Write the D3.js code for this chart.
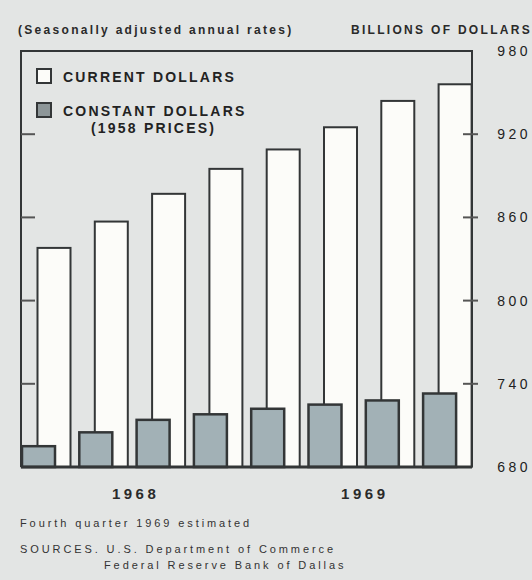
<!DOCTYPE html>
<html>
<head>
<meta charset="utf-8">
<style>
  body { margin: 0; background: #e3e5e4; }
  svg { display: block; font-family: "Liberation Sans", Arial, sans-serif; }
</style>
</head>
<body>
<svg width="532" height="580"></svg>
<script src="https://d3js.org/d3.v7.min.js"></script>
<script>
// quarterly GNP, billions of dollars
var quarters = ["1968Q1", "1968Q2", "1968Q3", "1968Q4", "1969Q1", "1969Q2", "1969Q3", "1969Q4"];
var currentDollars = [838, 857, 877, 895, 909, 925, 944, 956];
var constantDollars = [695, 705, 714, 718, 722, 725, 728, 733];
var years = ["1968", "1969"];
var yTicks = [680, 740, 800, 860, 920, 980];
var innerTicks = [740, 800, 860, 920];

var svg = d3.select("svg"),
    width = +svg.attr("width"),
    height = +svg.attr("height");

var plotLeft = 21, plotRight = 472, plotTop = 51, plotBottom = 467;
var ink = "#333637";

svg.append("rect").attr("width", width).attr("height", height).attr("fill", "#e3e5e4");

var x = d3.scaleBand()
    .domain(quarters)
    .range([plotLeft, plotLeft + 57.3 * 8]);

var y = d3.scaleLinear()
    .domain([680, 980])
    .range([plotBottom, plotTop]);

// current dollars (white) bars
svg.append("g").selectAll("rect")
  .data(currentDollars)
  .enter().append("rect")
    .attr("x", function(d, i) { return x(quarters[i]) + 16.5; })
    .attr("y", function(d) { return y(d); })
    .attr("width", 33)
    .attr("height", function(d) { return y(680) - y(d); })
    .attr("fill", "#fcfcf9")
    .attr("stroke", ink)
    .attr("stroke-width", 2);

// constant dollars (gray) bars
svg.append("g").selectAll("rect")
  .data(constantDollars)
  .enter().append("rect")
    .attr("x", function(d, i) { return x(quarters[i]) + 1; })
    .attr("y", function(d) { return y(d); })
    .attr("width", 33)
    .attr("height", function(d) { return y(680) - y(d); })
    .attr("fill", "#a2b1b6")
    .attr("stroke", ink)
    .attr("stroke-width", 2.5);

// frame
svg.append("path")
    .attr("d", "M" + plotLeft + "," + plotBottom + "V" + plotTop + "H" + plotRight + "V" + plotBottom)
    .attr("fill", "none")
    .attr("stroke", ink)
    .attr("stroke-width", 2);
svg.append("line")
    .attr("x1", plotLeft).attr("x2", plotRight)
    .attr("y1", plotBottom).attr("y2", plotBottom)
    .attr("stroke", ink)
    .attr("stroke-width", 3);

// tick marks left and right
svg.append("g").selectAll("line")
  .data(innerTicks)
  .enter().append("line")
    .attr("x1", plotLeft).attr("x2", plotLeft + 14)
    .attr("y1", function(d) { return y(d); })
    .attr("y2", function(d) { return y(d); })
    .attr("stroke", "#555")
    .attr("stroke-width", 2);
svg.append("g").selectAll("line")
  .data(innerTicks)
  .enter().append("line")
    .attr("x1", plotRight - 9).attr("x2", plotRight + 6)
    .attr("y1", function(d) { return y(d); })
    .attr("y2", function(d) { return y(d); })
    .attr("stroke", "#555")
    .attr("stroke-width", 2);

// y labels
svg.append("g").selectAll("text")
  .data(yTicks)
  .enter().append("text")
    .attr("x", 531)
    .attr("y", function(d) { return y(d) + 5; })
    .attr("text-anchor", "end")
    .attr("font-size", 14)
    .attr("letter-spacing", 3.5)
    .attr("fill", "#222")
    .text(function(d) { return d; });

// year labels
svg.append("g").selectAll("text")
  .data(years)
  .enter().append("text")
    .attr("x", function(d, i) { return (x(quarters[i * 4]) + x(quarters[i * 4 + 3]) + x.bandwidth()) / 2; })
    .attr("y", 499)
    .attr("text-anchor", "middle")
    .attr("font-size", 15)
    .attr("font-weight", "bold")
    .attr("letter-spacing", 3.5)
    .attr("fill", "#2a2a2a")
    .text(function(d) { return d; });

// header
svg.append("text")
    .attr("x", 18).attr("y", 34)
    .attr("font-size", 12)
    .attr("font-weight", "bold")
    .attr("letter-spacing", 2.3)
    .attr("fill", "#2a2a2a")
    .text("(Seasonally adjusted annual rates)");
svg.append("text")
    .attr("x", 532).attr("y", 34)
    .attr("text-anchor", "end")
    .attr("font-size", 12)
    .attr("font-weight", "bold")
    .attr("letter-spacing", 2.3)
    .attr("fill", "#2a2a2a")
    .text("BILLIONS OF DOLLARS");

// legend
var legend = svg.append("g");
legend.append("rect")
    .attr("x", 37).attr("y", 69).attr("width", 14).attr("height", 14)
    .attr("fill", "#fcfcf9").attr("stroke", ink).attr("stroke-width", 2);
legend.append("rect")
    .attr("x", 37).attr("y", 103).attr("width", 14).attr("height", 14)
    .attr("fill", "#8d9698").attr("stroke", ink).attr("stroke-width", 2);
legend.append("text")
    .attr("x", 63).attr("y", 82)
    .attr("font-size", 14).attr("font-weight", "bold").attr("letter-spacing", 2.2)
    .attr("fill", "#222")
    .text("CURRENT DOLLARS");
legend.append("text")
    .attr("x", 63).attr("y", 116)
    .attr("font-size", 14).attr("font-weight", "bold").attr("letter-spacing", 2.2)
    .attr("fill", "#222")
    .text("CONSTANT DOLLARS");
legend.append("text")
    .attr("x", 91).attr("y", 133)
    .attr("font-size", 14).attr("font-weight", "bold").attr("letter-spacing", 2.2)
    .attr("fill", "#222")
    .text("(1958 PRICES)");

// footnotes
var notes = [
  {text: "Fourth quarter 1969 estimated", x: 20, y: 527},
  {text: "SOURCES. U.S. Department of Commerce", x: 20, y: 553},
  {text: "Federal Reserve Bank of Dallas", x: 104, y: 569}
];
svg.append("g").selectAll("text")
  .data(notes)
  .enter().append("text")
    .attr("x", function(d) { return d.x; })
    .attr("y", function(d) { return d.y; })
    .attr("font-size", 11)
    .attr("letter-spacing", 2.9)
    .attr("fill", "#333")
    .text(function(d) { return d.text; });
</script>
</body>
</html>
